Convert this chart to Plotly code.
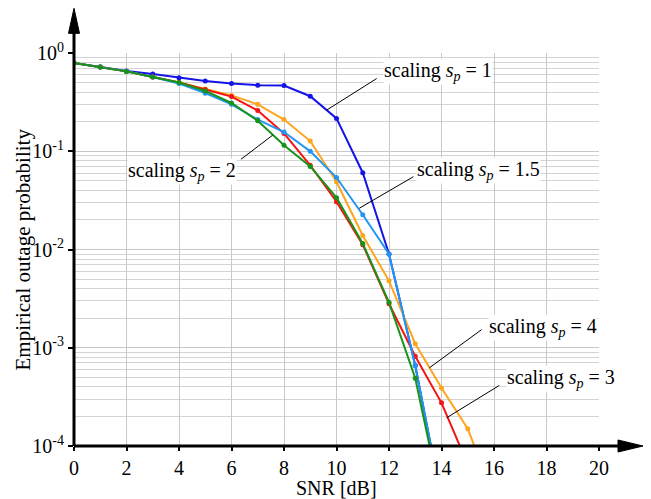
import plotly.graph_objects as go

# ---------------- data ----------------
snr = [0, 1, 2, 3, 4, 5, 6, 7, 8, 9, 10, 11, 12, 13, 14, 15, 16]

p_sp1 = [0.79, 0.72, 0.655, 0.61, 0.56, 0.52, 0.49, 0.47, 0.466, 0.363, 0.216,
         0.0605, 0.009, 0.00066, 2.8e-5]
p_sp15 = [0.79, 0.72, 0.65, 0.57, 0.49, 0.39, 0.30, 0.21, 0.157, 0.0998, 0.054,
          0.0226, 0.009, 0.00066, 2.8e-5]
p_sp2 = [0.79, 0.72, 0.65, 0.57, 0.50, 0.41, 0.31, 0.204, 0.115, 0.070, 0.0337,
         0.0115, 0.0029, 0.00049, 2.7e-5]
p_sp3 = [0.79, 0.72, 0.65, 0.57, 0.50, 0.425, 0.36, 0.26, 0.152, 0.072, 0.0307,
         0.0112, 0.0028, 0.00082, 0.000275, 6.5e-5]
p_sp4 = [0.79, 0.72, 0.65, 0.57, 0.50, 0.43, 0.37, 0.30, 0.21, 0.127, 0.049,
         0.0139, 0.0048, 0.0011, 0.00039, 0.00015, 3e-5]

x_ticks = [0, 2, 4, 6, 8, 10, 12, 14, 16, 18, 20]
y_ticks = [1e-4, 1e-3, 1e-2, 1e-1, 1e0]
y_ticktext = ["10<sup>-4</sup>", "10<sup>-3</sup>", "10<sup>-2</sup>",
              "10<sup>-1</sup>", "10<sup>0</sup>"]

label_texts = ["scaling <i>s</i><sub><i>p</i></sub> = 1",
               "scaling <i>s</i><sub><i>p</i></sub> = 1.5",
               "scaling <i>s</i><sub><i>p</i></sub> = 2",
               "scaling <i>s</i><sub><i>p</i></sub> = 3",
               "scaling <i>s</i><sub><i>p</i></sub> = 4"]

x_title = "SNR [dB]"
y_title = "Empirical outage probability"

# ---------------- styling / layout ----------------
FONT = "Liberation Serif, Times New Roman, serif"
series = [
    (p_sp1, "#1414e6"),
    (p_sp4, "#ffa41c"),
    (p_sp3, "#f51414"),
    (p_sp15, "#2196f3"),
    (p_sp2, "#179417"),
]

fig = go.Figure()
for vals, col in series:
    fig.add_trace(go.Scatter(
        x=snr[:len(vals)], y=vals, mode="lines+markers",
        line=dict(color=col, width=2),
        marker=dict(color=col, size=5),
        showlegend=False, cliponaxis=True))

# leader lines (x, log10 y) from label to curve
leaders = [
    ((11.53, -0.26), (9.62, -0.582)),
    ((12.93, -1.259), (10.87, -1.58)),
    ((6.36, -1.082), (7.57, -0.836)),
    ((16.2, -3.384), (14.2, -3.712)),
    ((15.53, -2.815), (13.54, -3.204)),
]
for (xa, ya), (xb, yb) in leaders:
    fig.add_trace(go.Scatter(x=[xa, xb], y=[10 ** ya, 10 ** yb], mode="lines",
                             line=dict(color="black", width=1),
                             showlegend=False, hoverinfo="skip"))

# label anchor positions (x, log10 y), left-anchored
label_pos = [(11.77, -0.193), (13.03, -1.191), (2.02, -1.211),
             (16.46, -3.313), (15.77, -2.795)]
for txt, (lx, ly) in zip(label_texts, label_pos):
    fig.add_annotation(x=lx, y=ly, xref="x", yref="y", text=txt,
                       showarrow=False, xanchor="left", yanchor="middle",
                       bgcolor="white", borderpad=0,
                       font=dict(family=FONT, size=20, color="black"))

# axis titles
fig.add_annotation(x=0.5, y=-0.106, xref="paper", yref="paper", text=x_title,
                   showarrow=False, xanchor="center", yanchor="middle",
                   font=dict(family=FONT, size=20, color="black"))
fig.add_annotation(x=-0.099, y=0.5, xref="paper", yref="paper", text=y_title,
                   showarrow=False, xanchor="center", yanchor="middle", textangle=-90,
                   font=dict(family=FONT, size=21, color="black"))

minor_vals = [k * 10 ** e for e in range(-4, 0) for k in range(2, 10)]

fig.update_xaxes(range=[0, 20], tickvals=x_ticks, ticktext=[str(v) for v in x_ticks],
                 automargin=False,
                 showgrid=True, gridcolor="#c8c8c8", gridwidth=1,
                 showline=False, zeroline=False,
                 ticks="outside", ticklen=4, tickwidth=2, tickcolor="black",
                 tickfont=dict(family=FONT, size=20, color="black"))
fig.update_yaxes(type="log", range=[-4, 0], tickvals=y_ticks, ticktext=y_ticktext,
                 automargin=False,
                 showgrid=True, gridcolor="#c8c8c8", gridwidth=1,
                 minor=dict(tickvals=minor_vals, showgrid=True,
                            gridcolor="#d4d4d4", gridwidth=1, ticks=""),
                 showline=False, zeroline=False,
                 ticks="outside", ticklen=5, tickwidth=2, tickcolor="black",
                 tickfont=dict(family=FONT, size=20, color="black"))

# axis lines with arrowheads (paper coordinates)
fig.add_shape(type="line", xref="paper", yref="paper", x0=0, y0=0, x1=1.04, y1=0,
              line=dict(color="black", width=3))
fig.add_shape(type="path", xref="paper", yref="paper",
              path="M 1.0362 0.0153 L 1.0838 0 L 1.0362 -0.0153 Z",
              fillcolor="black", line=dict(color="black", width=1))
fig.add_shape(type="line", xref="paper", yref="paper", x0=0, y0=0, x1=0, y1=1.055,
              line=dict(color="black", width=3))
fig.add_shape(type="path", xref="paper", yref="paper",
              path="M -0.0105 1.050 L 0 1.1137 L 0.0105 1.050 Z",
              fillcolor="black", line=dict(color="black", width=1))

# the page body adds an 8px offset, so the figure is sized to fit the window
fig.update_layout(width=643, height=491,
                  margin=dict(l=66, r=52, t=45, b=53),
                  paper_bgcolor="white", plot_bgcolor="white",
                  font=dict(family=FONT, size=20, color="black"))

fig.write_html("out.html")
